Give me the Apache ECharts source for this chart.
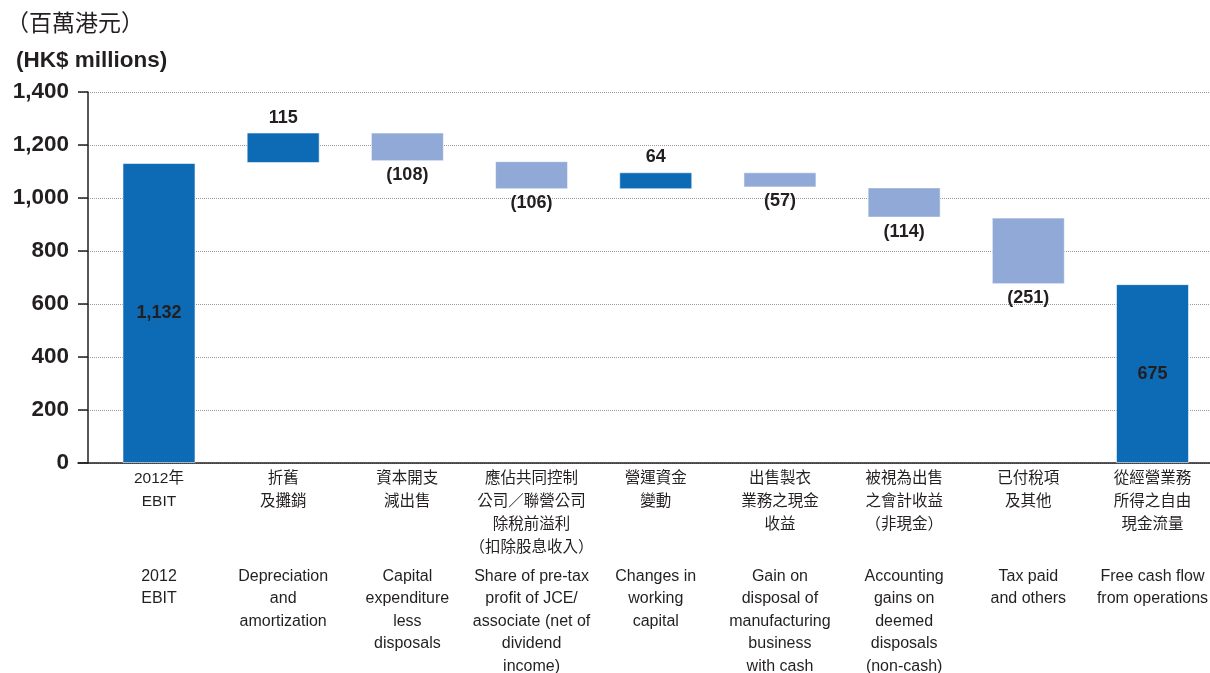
<!DOCTYPE html>
<html>
<head>
<meta charset="utf-8">
<script src="https://cdn.jsdelivr.net/npm/echarts@6/dist/echarts.min.js"></script>
<style>
  html, body { margin: 0; padding: 0; background: #fff; }
  #chart { width: 1210px; height: 673px; }
</style>
</head>
<body>
<div id="chart"></div>
<script>
// Free cash flow bridge, 2012 (HK$ millions)
const categoriesCn = [
  '2012年\nEBIT',
  '折舊\n及攤銷',
  '資本開支\n減出售',
  '應佔共同控制\n公司／聯營公司\n除稅前溢利\n（扣除股息收入）',
  '營運資金\n變動',
  '出售製衣\n業務之現金\n收益',
  '被視為出售\n之會計收益\n（非現金）',
  '已付稅項\n及其他',
  '從經營業務\n所得之自由\n現金流量'
];
const categoriesEn = [
  '2012\nEBIT',
  'Depreciation\nand\namortization',
  'Capital\nexpenditure\nless\ndisposals',
  'Share of pre-tax\nprofit of JCE/\nassociate (net of\ndividend\nincome)',
  'Changes in\nworking\ncapital',
  'Gain on\ndisposal of\nmanufacturing\nbusiness\nwith cash',
  'Accounting\ngains on\ndeemed\ndisposals\n(non-cash)',
  'Tax paid\nand others',
  'Free cash flow\nfrom operations'
];
const startValue = 1132;                                // 2012 EBIT
const changes = [115, -108, -106, 64, -57, -114, -251]; // bridge items
const endValue = 675;                                   // free cash flow
const yTicks = [0, 200, 400, 600, 800, 1000, 1200, 1400];

const DARK = '#0d6ab4';
const LIGHT = '#91a9d6';
const TEXT = '#231f20';
const SANS = 'Liberation Sans, Arial, sans-serif';
const CJK = 'Noto Sans CJK TC, sans-serif';
const MIXED = 'Liberation Sans, Noto Sans CJK TC, sans-serif';

// Floating segments: invisible base + visible bar, stacked
const baseData = [0];
const barData = [{ value: startValue, kind: 'total', itemStyle: { color: DARK } }];
let running = startValue;
changes.forEach(c => {
  const next = running + c;
  baseData.push(Math.min(running, next));
  barData.push({
    value: Math.abs(c),
    delta: c,
    kind: c >= 0 ? 'up' : 'down',
    itemStyle: { color: c >= 0 ? DARK : LIGHT }
  });
  running = next;
});
baseData.push(0);
barData.push({ value: endValue, kind: 'total', itemStyle: { color: DARK } });

barData.forEach(d => {
  const lbl = { show: true, color: TEXT, fontSize: 18, fontWeight: 'bold', fontFamily: SANS };
  if (d.kind === 'total') {
    lbl.position = 'inside';
    lbl.formatter = () => d.value.toLocaleString('en-US');
  } else if (d.kind === 'up') {
    lbl.position = 'top';
    lbl.distance = 6;
    lbl.formatter = () => String(d.delta);
  } else {
    lbl.position = 'bottom';
    lbl.distance = 5;
    lbl.formatter = () => '(' + Math.abs(d.delta) + ')';
  }
  d.label = lbl;
});

const chart = echarts.init(document.getElementById('chart'), null, { renderer: 'canvas' });
chart.setOption({
  backgroundColor: '#ffffff',
  animation: false,
  title: [
    { text: '（百萬港元）', left: 1, top: 6,
      textStyle: { fontSize: 23, fontWeight: 'normal', color: TEXT, fontFamily: CJK } },
    { text: '(HK$ millions)', left: 11, top: 44,
      textStyle: { fontSize: 22.5, fontWeight: 'bold', color: TEXT, fontFamily: SANS } }
  ],
  grid: [
    // bars and category labels
    { left: 96.9, width: 1117.7, top: 92, height: 371, outerBoundsMode: 'none', containLabel: false },
    // axis frame: value axis, gridlines and baseline
    { left: 78, right: 0, top: 92, height: 371, outerBoundsMode: 'none', containLabel: false }
  ],
  xAxis: [
    {
      type: 'category', gridIndex: 0, data: categoriesCn,
      axisLine: { show: false }, axisTick: { show: false },
      axisLabel: {
        interval: 0, color: TEXT, fontSize: 15.5, lineHeight: 23, margin: 4,
        fontFamily: MIXED, align: 'center'
      }
    },
    {
      type: 'category', gridIndex: 0, data: categoriesEn, position: 'bottom', offset: 96,
      axisLine: { show: false }, axisTick: { show: false },
      axisLabel: {
        interval: 0, color: TEXT, fontSize: 16, lineHeight: 22.5, margin: 6,
        fontFamily: SANS, align: 'center'
      }
    },
    {
      type: 'value', gridIndex: 1, min: 0, max: 1,
      axisLine: { show: true, onZero: false, lineStyle: { color: TEXT, width: 1.5 } },
      axisTick: { show: false }, axisLabel: { show: false }, splitLine: { show: false }
    }
  ],
  yAxis: [
    { type: 'value', gridIndex: 0, min: 0, max: 1400, show: false },
    {
      type: 'value', gridIndex: 1, min: 0, max: 1400, interval: 200, offset: -10,
      axisLine: { show: true, onZero: false, lineStyle: { color: TEXT, width: 1.5 } },
      axisTick: { show: true, inside: false, length: 10, lineStyle: { color: TEXT, width: 1.5 } },
      splitLine: { show: true, lineStyle: { color: '#9a9a9a', type: [1, 1], width: 1 } },
      axisLabel: {
        customValues: yTicks,
        formatter: v => v.toLocaleString('en-US'),
        color: TEXT, fontSize: 22.5, fontWeight: 'bold', margin: 19,
        fontFamily: SANS
      }
    }
  ],
  series: [
    {
      type: 'bar', xAxisIndex: 0, yAxisIndex: 0, stack: 'bridge', barWidth: 73, silent: true,
      itemStyle: { color: 'transparent' },
      data: baseData
    },
    {
      type: 'bar', xAxisIndex: 0, yAxisIndex: 0, stack: 'bridge', barWidth: 73,
      itemStyle: { borderColor: 'rgba(255,255,255,0.55)', borderWidth: 1 },
      data: barData
    }
  ]
});
</script>
</body>
</html>
